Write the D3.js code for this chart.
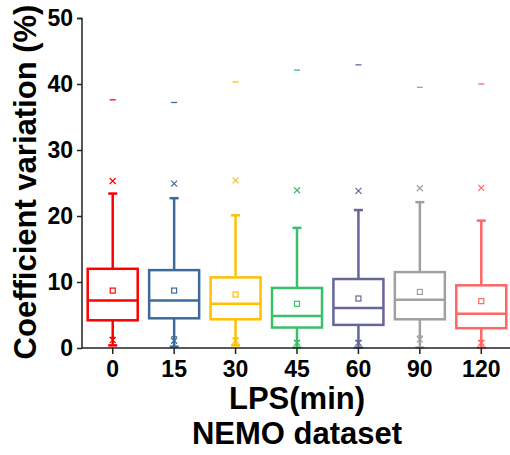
<!DOCTYPE html>
<html>
<head>
<meta charset="utf-8">
<script src="https://cdn.jsdelivr.net/npm/d3@7"></script>
<style>
  body { margin: 0; background: #fff; }
  text { font-family: "Liberation Sans", Arial, sans-serif; font-weight: bold; }
</style>
</head>
<body>
<div id="chart"></div>
<script>
// box plot values (CV %)
var categories = ["0", "15", "30", "45", "60", "90", "120"];
var colors     = ["#ff0000", "#3d6a9c", "#ffc000", "#3cbf6c", "#66669c", "#a0a0a0", "#ff6666"];
var q1         = [4.2, 4.5, 4.35, 3.1, 3.5, 4.35, 3.0];
var median     = [7.2, 7.2, 6.7, 4.85, 6.05, 7.3, 5.2];
var q3         = [12.0, 11.8, 10.7, 9.1, 10.45, 11.5, 9.5];
var mean       = [8.7, 8.7, 8.1, 6.7, 7.5, 8.5, 7.1];
var whiskerLo  = [0.4, 0.2, 0.4, 0.05, 0.05, 0.05, 0.05];
var whiskerHi  = [23.4, 22.7, 20.1, 18.2, 20.9, 22.1, 19.3];
var p99        = [25.3, 24.9, 25.4, 23.9, 23.8, 24.2, 24.25];
var p1         = [1.2, 1.1, 1.1, 0.8, 0.8, 1.3, 0.8];
var minVal     = [1.6, 1.7, 1.5, 1.1, 1.1, 1.8, 1.1];
var maxVal     = [37.6, 37.2, 40.3, 42.1, 42.9, 39.5, 40.0];
var yTicks     = [0, 10, 20, 30, 40, 50];

var W = 510, H = 455;
var margin = { top: 18, right: -2, bottom: 107, left: 82 };
var width = W - margin.left - margin.right;
var height = H - margin.top - margin.bottom;

var svg = d3.select("#chart").append("svg")
  .attr("width", W)
  .attr("height", H);
var g = svg.append("g")
  .attr("transform", "translate(" + margin.left + "," + margin.top + ")");

var x = d3.scaleBand().domain(categories).range([0, width]);
var y = d3.scaleLinear().domain([0, 50]).range([height, 0]);

var boxW = 50, capW = 9;

// boxes
var boxes = g.selectAll("g.box")
  .data(categories)
  .enter().append("g")
  .attr("class", "box")
  .attr("transform", function(d) { return "translate(" + (x(d) + x.bandwidth() / 2) + ",0)"; });

boxes.each(function(d, i) {
  var b = d3.select(this);
  var c = colors[i];
  // whiskers
  b.append("line").attr("x1", 0).attr("x2", 0)
    .attr("y1", y(q3[i])).attr("y2", y(whiskerHi[i]))
    .attr("stroke", c).attr("stroke-width", 2.5);
  b.append("line").attr("x1", 0).attr("x2", 0)
    .attr("y1", y(q1[i])).attr("y2", y(whiskerLo[i]))
    .attr("stroke", c).attr("stroke-width", 2.5);
  b.append("line").attr("x1", -capW / 2).attr("x2", capW / 2)
    .attr("y1", y(whiskerHi[i])).attr("y2", y(whiskerHi[i]))
    .attr("stroke", c).attr("stroke-width", 2.5);
  b.append("line").attr("x1", -capW / 2).attr("x2", capW / 2)
    .attr("y1", y(whiskerLo[i])).attr("y2", y(whiskerLo[i]))
    .attr("stroke", c).attr("stroke-width", 2.5);
  // box
  b.append("rect")
    .attr("x", -boxW / 2).attr("width", boxW)
    .attr("y", y(q3[i])).attr("height", y(q1[i]) - y(q3[i]))
    .attr("fill", "none").attr("stroke", c).attr("stroke-width", 2.5);
  b.append("line").attr("x1", -boxW / 2).attr("x2", boxW / 2)
    .attr("y1", y(median[i])).attr("y2", y(median[i]))
    .attr("stroke", c).attr("stroke-width", 2.5);
  // mean
  b.append("rect")
    .attr("x", -2.5).attr("y", y(mean[i]) - 2.5)
    .attr("width", 5).attr("height", 5)
    .attr("fill", "none").attr("stroke", c).attr("stroke-width", 1.2);
  // 1% / 99% crosses
  [p99[i], p1[i]].forEach(function(v) {
    b.append("path")
      .attr("d", "M-3," + (y(v) - 3) + "L3," + (y(v) + 3) + "M3," + (y(v) - 3) + "L-3," + (y(v) + 3))
      .attr("stroke", c).attr("stroke-width", 1.2).attr("fill", "none");
  });
  // min / max dashes
  [maxVal[i], minVal[i]].forEach(function(v) {
    b.append("line").attr("x1", -3).attr("x2", 3)
      .attr("y1", y(v)).attr("y2", y(v))
      .attr("stroke", c).attr("stroke-width", 1.3);
  });
});

// axes
var yAxis = d3.axisLeft(y).tickValues(yTicks).tickSize(5).tickPadding(4);
var yAxisG = g.append("g").call(yAxis);
yAxisG.select(".domain").attr("stroke", "#222").attr("stroke-width", 1.5).attr("d", "M-5,0.5H0V" + height);
yAxisG.selectAll(".tick line").attr("stroke", "#222").attr("stroke-width", 1.5);
yAxisG.selectAll(".tick text").style("font-size", "23px").attr("fill", "#000");

var xAxis = d3.axisBottom(x).tickSize(6).tickPadding(7);
var xAxisG = g.append("g").attr("transform", "translate(0," + height + ")").call(xAxis);
xAxisG.select(".domain").attr("stroke", "#222").attr("stroke-width", 1.5).attr("d", "M0,0H" + width);
xAxisG.selectAll(".tick line").attr("stroke", "#222").attr("stroke-width", 1.5);
xAxisG.selectAll(".tick text").style("font-size", "23px").attr("fill", "#000");

// labels
svg.append("text")
  .attr("transform", "translate(36," + 182 + ") rotate(-90)")
  .attr("text-anchor", "middle")
  .style("font-size", "31px")
  .text("Coefficient variation (%)");

svg.append("text")
  .attr("x", 297).attr("y", 409)
  .attr("text-anchor", "middle")
  .style("font-size", "31px")
  .text("LPS(min)");

svg.append("text")
  .attr("x", 297).attr("y", 444)
  .attr("text-anchor", "middle")
  .style("font-size", "31px")
  .text("NEMO dataset");
</script>
</body>
</html>
